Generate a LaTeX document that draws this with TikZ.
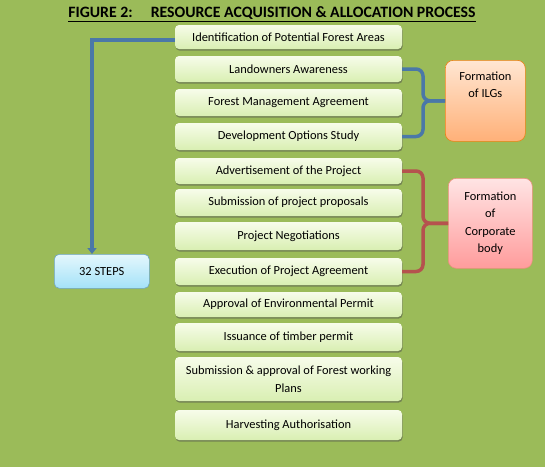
\documentclass[tikz,border=0pt]{standalone}
\usepackage{fontspec}
\setmainfont{Carlito}
\usetikzlibrary{shadows,arrows.meta}
\definecolor{bg}{HTML}{9BBB59}
\definecolor{boxtop}{HTML}{F7FCEA}
\definecolor{boxbot}{HTML}{D9EFB2}
\definecolor{blueline}{HTML}{4A78A8}
\definecolor{redline}{HTML}{B5524E}
\begin{document}
\begin{tikzpicture}[x=1pt,y=-1pt,
  stepbox/.style={rounded corners=4pt, top color=boxtop, bottom color=boxbot,
    minimum width=227pt, inner sep=0pt, align=center,
    font=\fontsize{12.4}{18}\selectfont,
    drop shadow={shadow xshift=0.6pt, shadow yshift=-1.6pt, opacity=0.5, fill=black!70}},
  sidebox/.style={rounded corners=8pt, inner sep=0pt, align=center,
    font=\fontsize{12.4}{17.3}\selectfont, line width=0.6pt},
  bluelink/.style={draw=blueline, line width=3.5pt},
  redlink/.style={draw=redline, line width=3.5pt}]
\fill[bg] (0,0) rectangle (545,467);
\useasboundingbox (0,0) rectangle (545,467);
\node[font=\bfseries\fontsize{15.8}{17}\selectfont, inner sep=0pt] (title) at (272,14)
  {\underline{FIGURE 2:\hspace{18pt}RESOURCE ACQUISITION \& ALLOCATION PROCESS}};
\node[stepbox, minimum height=24pt] (s1) at (288.5,37) {Identification of Potential Forest Areas};
\node[stepbox, minimum height=26pt] (s2) at (288.5,69) {Landowners Awareness};
\node[stepbox, minimum height=27pt] (s3) at (288.5,102.5) {Forest Management Agreement};
\node[stepbox, minimum height=27pt] (s4) at (288.5,136.5) {Development Options Study};
\node[stepbox, minimum height=26pt] (s5) at (288.5,171) {Advertisement of the Project};
\node[stepbox, minimum height=27pt] (s6) at (288.5,202.5) {Submission of project proposals};
\node[stepbox, minimum height=28pt] (s7) at (288.5,236) {Project Negotiations};
\node[stepbox, minimum height=27pt] (s8) at (288.5,271.5) {Execution of Project Agreement};
\node[stepbox, minimum height=25pt] (s9) at (288.5,304.5) {Approval of Environmental Permit};
\node[stepbox, minimum height=28pt] (s10) at (288.5,337) {Issuance of timber permit};
\node[stepbox, minimum height=44pt] (s11) at (288.5,379) {Submission \& approval of Forest working\\Plans};
\node[stepbox, minimum height=30pt] (s12) at (288.5,425) {Harvesting Authorisation};
\node[sidebox, draw=orange!70!brown, top color={rgb,255:red,255;green,230;blue,210}, bottom color={rgb,255:red,255;green,176;blue,120},
  minimum width=80pt, minimum height=81pt, anchor=north west] (ilg) at (445,60) {Formation\\of ILGs\\[15pt]};
\node[sidebox, draw=red!45!brown!60, top color={rgb,255:red,255;green,228;blue,228}, bottom color={rgb,255:red,255;green,156;blue,156},
  minimum width=84pt, minimum height=90pt, anchor=north west] (corp) at (448,178) {Formation\\of\\Corporate\\body};
\node[sidebox, rounded corners=5pt, draw={rgb,255:red,110;green,165;blue,195}, top color={rgb,255:red,228;green,247;blue,253}, bottom color={rgb,255:red,164;green,226;blue,248},
  minimum width=95pt, minimum height=34pt, anchor=north west] (steps) at (54,254) {32 STEPS};
\coordinate (ax) at (92,0);
\coordinate (bx) at (423,0);
\draw[bluelink, -{Triangle[width=9pt,length=6pt]}] ([yshift=-3pt]s1.west) -| (ax |- steps.north);
\draw[bluelink, rounded corners=7pt] (s2.east) -| (bx |- ilg.west) -- (ilg.west);
\draw[bluelink, rounded corners=7pt] (s4.east) -| (bx |- ilg.west) -- (ilg.west);
\draw[redlink, rounded corners=7pt] (s5.east) -| (bx |- corp.west) -- (corp.west);
\draw[redlink, rounded corners=7pt] (s8.east) -| (bx |- corp.west) -- (corp.west);
\end{tikzpicture}
\end{document}
